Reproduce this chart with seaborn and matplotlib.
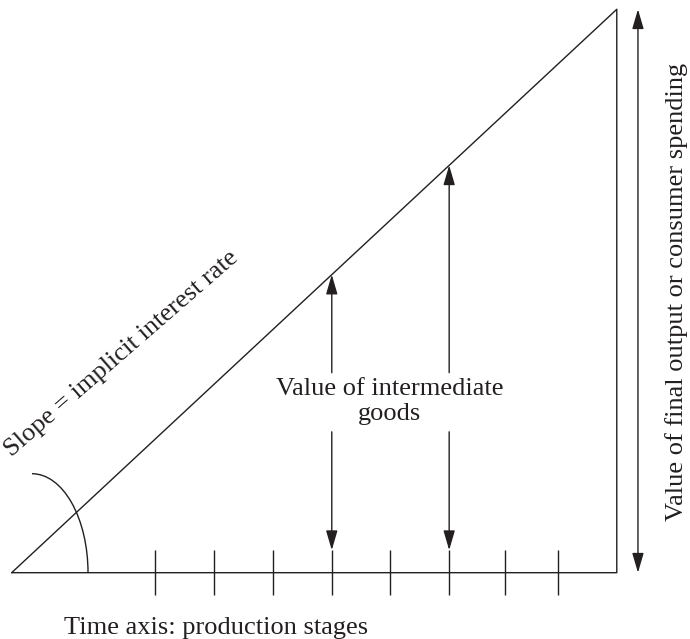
import pandas as pd
import seaborn as sns
from matplotlib import pyplot as plt
from matplotlib.patches import Arc, FancyArrowPatch

# diagram data (time in stage units, value in output units)
time_end = 10.0
final_value = 10.0
stage_ticks = [2.37, 3.34, 4.32, 5.29, 6.25, 7.23, 8.15, 9.03]
intermediate_stages = [5.29, 7.23]
text_gap = [2.50, 3.55]
down_arrow_end = 0.40

time_label = "Time axis: production stages"
value_label = "Value of final output or consumer spending"
intermediate_label = "Value of intermediate\ngoods"
slope_label = "Slope = implicit interest rate"

INK = "#231f20"

sns.set_style("white")
plt.rcParams['font.family'] = ['Liberation Serif', 'DejaVu Serif']

fig = plt.figure(figsize=(6.9, 6.39), dpi=100)
ax = fig.add_axes([0, 0, 1, 1])

# triangle
tri = pd.DataFrame({"t": [0, time_end, time_end, 0],
                    "v": [0, final_value, 0, 0]})
sns.lineplot(data=tri, x="t", y="v", sort=False, estimator=None,
             color=INK, linewidth=1.0, ax=ax)

# stage ticks on time axis
ax.vlines(stage_ticks, -down_arrow_end, down_arrow_end, color=INK, linewidth=1.0)

# angle arc
ax.add_patch(Arc((0.336, 0), 1.851, 3.514, theta1=0, theta2=90,
                 color=INK, linewidth=1.0))


def arrow(p0, p1, style="-|>"):
    ax.add_patch(FancyArrowPatch(p0, p1, arrowstyle=style + ",head_length=0.75,head_width=0.22",
                                 mutation_scale=16, color=INK, linewidth=1.0,
                                 shrinkA=0, shrinkB=0))


for s in intermediate_stages:
    arrow((s, text_gap[1]), (s, s * final_value / time_end))
    arrow((s, text_gap[0]), (s, down_arrow_end))

arrow((10.35, 0), (10.35, final_value), style="<|-|>")

ax.text(6.25, 3.04, intermediate_label, ha="center", va="center",
        fontsize=19, color=INK, linespacing=1.2)
ax.text(3.385, -1.088, time_label, ha="center", va="baseline",
        fontsize=19, color=INK)
ax.text(10.98, 4.98, value_label, ha="center", va="center", rotation=90,
        fontsize=19, color=INK)
ax.text(1.81, 3.88, slope_label, ha="center", va="center", rotation=41,
        rotation_mode="anchor", fontsize=19, color=INK)

ax.set_xlim(-0.193, 11.21)
ax.set_ylim(-1.177, 10.165)
ax.set_axis_off()

fig.savefig("out.png", dpi=100)
